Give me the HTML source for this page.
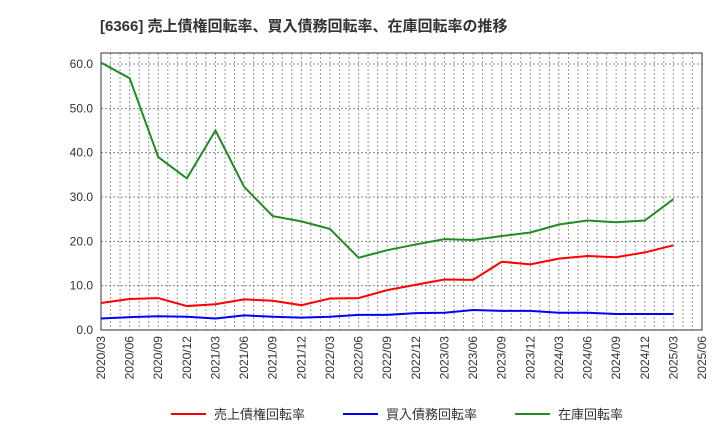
<!DOCTYPE html>
<html><head><meta charset="utf-8"><style>
body{margin:0;background:#fff;font-family:"Liberation Sans","Noto Sans CJK JP",sans-serif;}
</style></head><body>
<svg id="c" width="720" height="440" xmlns="http://www.w3.org/2000/svg" style="font-family:'Liberation Sans','Noto Sans CJK JP',sans-serif">
<text x="100" y="31" font-size="15" font-weight="bold" fill="#333">[6366]  売上債権回転率、買入債務回転率、在庫回転率の推移</text>
<g id="grid"></g><g id="axes"></g><g id="series"></g><g id="legend"></g>
</svg>
<script>
const xLabels=["2020/03","2020/06","2020/09","2020/12","2021/03","2021/06","2021/09","2021/12","2022/03","2022/06","2022/09","2022/12","2023/03","2023/06","2023/09","2023/12","2024/03","2024/06","2024/09","2024/12","2025/03","2025/06"];
const yTicks=[0,10,20,30,40,50,60];
const yTickLabels=["0.0","10.0","20.0","30.0","40.0","50.0","60.0"];
const uriage=[6.1,7.0,7.2,5.4,5.8,6.9,6.6,5.6,7.1,7.2,9.0,10.2,11.4,11.3,15.4,14.8,16.1,16.7,16.4,17.5,19.1];
const kainyu=[2.6,2.9,3.1,3.0,2.6,3.3,3.0,2.8,3.0,3.4,3.4,3.8,3.9,4.5,4.3,4.3,3.9,3.9,3.6,3.6,3.6];
const zaiko=[60.3,56.8,39.0,34.2,45.0,32.3,25.7,24.5,22.8,16.3,18.0,19.3,20.5,20.3,21.2,22.0,23.8,24.7,24.3,24.7,29.5];
const seriesNames=["売上債権回転率","買入債務回転率","在庫回転率"];
const colors=["#ff0000","#0000ff","#228b22"];
const NS="http://www.w3.org/2000/svg";
const L=101,R=702,T=53,B=330;
const xs=i=>L+(R-L)*i/(xLabels.length-1);
const ys=v=>B-(B-64)*v/60;
function mk(tag,attrs,parent){const e=document.createElementNS(NS,tag);for(const k in attrs)e.setAttribute(k,attrs[k]);parent.appendChild(e);return e;}
const grid=document.getElementById('grid'),axes=document.getElementById('axes'),ser=document.getElementById('series'),leg=document.getElementById('legend');
// monthly vertical grid
const nMonths=(xLabels.length-1)*3;
for(let m=1;m<nMonths;m++){const x=L+(R-L)*m/nMonths;
const g=mk('line',{x1:x,x2:x,y1:T,y2:B,stroke:'#999','stroke-dasharray':'2,2','stroke-width':1},grid);

}
yTicks.forEach((v,i)=>{const y=ys(v);
if(v>0){const g=mk('line',{x1:L,x2:R,y1:y,y2:y,stroke:'#888','stroke-dasharray':'2,2','stroke-width':1},grid);

}
const t=mk('text',{x:L-8,y:y+4,'text-anchor':'end','font-size':12,fill:'#333'},axes);t.textContent=yTickLabels[i];

});
xLabels.forEach((lab,i)=>{const x=xs(i);
const t=mk('text',{x:x+4,y:B+6,'text-anchor':'end','font-size':12,fill:'#333',transform:`rotate(-90 ${x+4} ${B+6})`},axes);t.textContent=lab;

});
const fr=mk('rect',{x:L,y:T,width:R-L,height:B-T,fill:'none',stroke:'#333','stroke-width':1},axes);


[uriage,kainyu,zaiko].forEach((arr,s)=>{
const p=mk('polyline',{points:arr.map((v,i)=>xs(i)+','+ys(v)).join(' '),fill:'none',stroke:colors[s],'stroke-width':2},ser);


const lx=[171,343,515][s];
const ll=mk('line',{x1:lx,x2:lx+35,y1:414,y2:414,stroke:colors[s],'stroke-width':2},leg);


const lt=mk('text',{x:lx+43,y:419,'font-size':13,fill:'#333'},leg);lt.textContent=seriesNames[s];

});
</script>
</body></html>
